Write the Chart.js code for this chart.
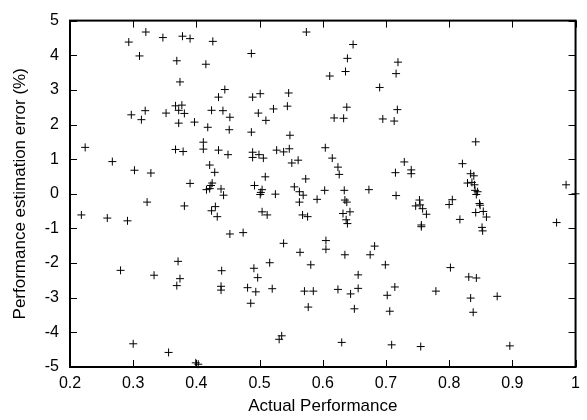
<!DOCTYPE html>
<html>
<head>
<meta charset="utf-8">
<script src="https://cdn.jsdelivr.net/npm/chart.js@4"></script>
<style>
  html, body { margin: 0; padding: 0; background: #fff; }
  #wrap { width: 587px; height: 420px; }
</style>
</head>
<body>
<div id="wrap"><canvas id="c" width="587" height="420"></canvas></div>
<script>
// ── Data ───────────────────────────────────────────────────────────────────────
const actualPerf = [
  0.293, 0.320, 0.310, 0.347, 0.378, 0.390, 0.426, 0.369, 0.415, 0.374,
  0.445, 0.435, 0.297, 0.319, 0.313, 0.352, 0.367, 0.377, 0.372, 0.381,
  0.372, 0.397, 0.418, 0.424, 0.442, 0.453, 0.452, 0.224, 0.267, 0.302,
  0.328, 0.367, 0.379, 0.411, 0.411, 0.435, 0.450, 0.421, 0.429, 0.390,
  0.425, 0.423, 0.416, 0.421, 0.439, 0.443, 0.322, 0.381, 0.218, 0.259,
  0.291, 0.430, 0.424, 0.433, 0.453, 0.371, 0.280, 0.333, 0.374, 0.369,
  0.440, 0.439, 0.439, 0.300, 0.356, 0.399, 0.403, 0.574, 0.648, 0.487,
  0.639, 0.719, 0.636, 0.611, 0.716, 0.690, 0.489, 0.501, 0.546, 0.544,
  0.638, 0.522, 0.498, 0.510, 0.618, 0.633, 0.718, 0.695, 0.713, 0.487,
  0.548, 0.489, 0.489, 0.499, 0.506, 0.527, 0.538, 0.547, 0.551, 0.561,
  0.604, 0.615, 0.624, 0.626, 0.509, 0.573, 0.729, 0.715, 0.492, 0.504,
  0.501, 0.525, 0.555, 0.563, 0.569, 0.591, 0.603, 0.634, 0.635, 0.673,
  0.716, 0.563, 0.638, 0.504, 0.512, 0.568, 0.576, 0.632, 0.643, 0.637,
  0.639, 0.474, 0.538, 0.605, 0.605, 0.564, 0.635, 0.675, 0.682, 0.699,
  0.516, 0.581, 0.491, 0.497, 0.481, 0.494, 0.520, 0.486, 0.571, 0.585,
  0.577, 0.624, 0.644, 0.656, 0.656, 0.650, 0.714, 0.702, 0.706, 0.535,
  0.531, 0.630, 0.709, 0.842, 0.740, 0.740, 0.821, 0.834, 0.839, 0.829,
  0.836, 0.840, 0.841, 0.845, 0.843, 0.985, 1.000, 0.753, 0.805, 0.747,
  0.754, 0.758, 0.764, 0.756, 0.756, 0.800, 0.817, 0.848, 0.849, 0.842,
  0.854, 0.859, 0.852, 0.853, 0.970, 0.802, 0.831, 0.843, 0.779, 0.834,
  0.876, 0.838, 0.755, 0.896, 0.502
];
const estError = [
  4.38, 4.67, 3.98, 4.51, 4.55, 4.48, 4.40, 3.84, 3.74, 3.23,
  3.01, 2.79, 2.28, 2.40, 2.14, 2.33, 2.54, 2.56, 2.41, 2.32,
  2.04, 2.07, 1.92, 2.41, 2.40, 2.21, 1.85, 1.34, 0.93, 0.68,
  0.60, 1.28, 1.22, 1.49, 1.29, 1.26, 1.13, 0.83, 0.62, 0.30,
  0.31, 0.24, 0.12, 0.15, 0.14, -0.04, -0.24, -0.35, -0.61, -0.70,
  -0.78, -0.37, -0.49, -0.66, -1.16, -1.95, -2.21, -2.35, -2.45, -2.65,
  -2.22, -2.67, -2.78, -4.33, -4.58, -4.88, -4.92, 4.67, 4.31, 4.05,
  3.91, 3.80, 3.53, 3.40, 3.47, 3.07, 2.79, 2.89, 2.91, 2.53,
  2.50, 2.45, 2.33, 2.12, 2.19, 2.18, 2.43, 2.16, 2.10, 1.78,
  1.69, 1.20, 1.05, 1.13, 1.03, 1.26, 1.21, 1.30, 0.89, 0.97,
  1.33, 1.03, 0.77, 0.56, 0.49, 0.43, 0.92, 0.61, 0.24, 0.12,
  -0.02, -0.01, 0.20, 0.06, -0.04, -0.16, 0.10, 0.10, -0.18, 0.12,
  -0.05, -0.24, -0.24, -0.52, -0.61, -0.61, -0.66, -0.57, -0.52, -0.75,
  -0.86, -1.12, -1.43, -1.35, -1.60, -1.69, -1.76, -1.76, -1.51, -2.05,
  -1.99, -2.05, -2.15, -2.42, -2.71, -2.83, -2.74, -3.16, -2.81, -2.81,
  -3.27, -2.76, -2.89, -2.73, -2.34, -3.32, -2.69, -2.93, -3.39, -4.10,
  -4.20, -4.29, -4.36, 1.50, 0.69, 0.58, 0.87, 0.58, 0.52, 0.31,
  0.33, 0.26, 0.10, 0.06, -0.02, 0.26, 0.00, -0.18, -0.17, -0.35,
  -0.32, -0.43, -0.59, -0.90, -0.95, -0.31, -0.74, -0.28, -0.33, -0.54,
  -0.51, -0.67, -0.97, -1.07, -0.83, -2.13, -2.40, -2.43, -2.81, -3.01,
  -2.96, -3.42, -4.41, -4.39, 0.04
];
const xTicks = [0.2, 0.3, 0.4, 0.5, 0.6, 0.7, 0.8, 0.9, 1];
const xTickLabels = ['0.2', '0.3', '0.4', '0.5', '0.6', '0.7', '0.8', '0.9', '1'];
const yTicks = [-5, -4, -3, -2, -1, 0, 1, 2, 3, 4, 5];
const yTickLabels = ['-5', '-4', '-3', '-2', '-1', '0', '1', '2', '3', '4', '5'];

// ── Style ──────────────────────────────────────────────────────────────────────
const FONT = "'Liberation Sans', Arial, sans-serif";
const tickFont = { family: FONT, size: 16 };
const titleFont = { family: FONT, size: 17 };

// gnuplot-like frame with inward (mirrored) tick marks
const frame = {
  id: 'frame',
  afterDatasetsDraw(chart) {
    const { ctx, chartArea: a, scales: { x, y } } = chart;
    const len = 7;
    ctx.save();
    ctx.strokeStyle = '#000';
    ctx.lineWidth = 1;
    ctx.beginPath();
    xTicks.forEach(v => {
      const px = Math.round(x.getPixelForValue(v)) + 0.5;
      ctx.moveTo(px, a.bottom); ctx.lineTo(px, a.bottom - len);
      ctx.moveTo(px, a.top);    ctx.lineTo(px, a.top + len);
    });
    yTicks.forEach(v => {
      const py = Math.round(y.getPixelForValue(v)) + 0.5;
      ctx.moveTo(a.left, py);  ctx.lineTo(a.left + len, py);
      ctx.moveTo(a.right, py); ctx.lineTo(a.right - len, py);
    });
    ctx.stroke();
    ctx.lineWidth = 2;
    ctx.strokeRect(a.left, a.top, a.right - a.left, a.bottom - a.top);
    ctx.restore();
  }
};

new Chart(document.getElementById('c'), {
  type: 'scatter',
  data: {
    datasets: [{
      data: actualPerf.map((v, i) => ({ x: v, y: estError[i] })),
      pointStyle: 'cross',
      pointRadius: 4,
      borderColor: '#000',
      borderWidth: 1,
      backgroundColor: '#000',
      clip: false
    }]
  },
  options: {
    responsive: false,
    animation: false,
    layout: { padding: { top: 15, right: 7, left: 0, bottom: 0 } },
    plugins: { legend: { display: false }, tooltip: { enabled: false } },
    scales: {
      x: {
        type: 'linear', min: 0.2, max: 1,
        afterBuildTicks: s => { s.ticks = xTicks.map(v => ({ value: v })); },
        afterFit: s => { s.height = 53; },
        grid: { display: false, drawTicks: false },
        border: { display: false },
        ticks: { color: '#000', font: tickFont, padding: 7, maxRotation: 0, autoSkip: false,
                 callback: (v, i) => xTickLabels[i] },
        title: { display: true, text: 'Actual Performance', color: '#000', font: titleFont,
                 padding: { top: 0, bottom: 3 } }
      },
      y: {
        type: 'linear', min: -5, max: 5,
        afterBuildTicks: s => { s.ticks = yTicks.map(v => ({ value: v })); },
        afterFit: s => { s.width = 70; },
        grid: { display: false, drawTicks: false },
        border: { display: false },
        ticks: { color: '#000', font: tickFont, padding: 11, autoSkip: false,
                 callback: (v, i) => yTickLabels[i] },
        title: { display: true, text: 'Performance estimation error (%)', color: '#000', font: titleFont,
                 padding: { top: 10, bottom: 0 } }
      }
    }
  },
  plugins: [frame]
});
</script>
</body>
</html>
